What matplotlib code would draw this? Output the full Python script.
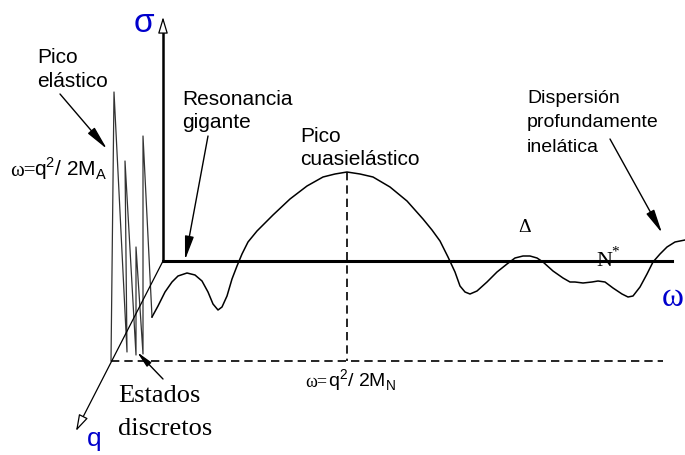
import matplotlib
matplotlib.use("Agg")
import matplotlib.pyplot as plt

plt.rcParams['font.family'] = ['Liberation Sans', 'DejaVu Sans']

# esquema de la seccion eficaz (coordenadas de la imagen, y hacia abajo)
picos_x = [111, 114, 127, 125, 136, 136, 143, 143, 152]
picos_y = [362, 93, 353, 162, 356, 248, 355, 137, 318]

espectro_x = [152, 158, 165, 172, 178, 187, 195, 202, 208, 213, 218, 222, 227,
              232, 237, 242, 248, 257, 265, 273, 290, 307, 323, 335, 347, 360,
              373, 390, 407, 423, 432, 440, 448, 455, 460, 465, 470, 477, 487,
              497, 507, 515, 523, 530, 537, 543, 553, 563, 570, 575, 583, 592,
              598, 605, 613, 622, 628, 633, 640, 647, 653, 660, 667, 675, 685]
espectro_y = [318, 307, 293, 283, 277, 274, 276, 282, 293, 305, 311, 308, 297,
              280, 267, 255, 243, 232, 224, 216, 200, 187, 178, 175, 173, 175,
              178, 188, 202, 220, 231, 242, 258, 273, 287, 293, 295, 292, 283,
              273, 265, 259, 257, 257, 259, 263, 272, 279, 283, 283, 284, 283,
              282, 283, 289, 295, 298, 297, 288, 275, 263, 255, 248, 243, 241]

omega_cuasi = 347
sigma_cuasi = 173

azul = '#0000cc'

fig = plt.figure(figsize=(6.85, 4.56), dpi=100)
ax = fig.add_axes([0, 0, 1, 1])
ax.set_xlim(0, 685)
ax.set_ylim(456, 0)
ax.axis('off')


def punta(base, tip):
    # cabeza de flecha abierta para los ejes
    ax.annotate('', xy=tip, xytext=base,
                arrowprops=dict(arrowstyle='-|>,head_length=1.0,head_width=0.3',
                                fc='white', ec='black', lw=0.9,
                                shrinkA=0, shrinkB=0, mutation_scale=10))


def flecha(base, tip, escala=9):
    ax.annotate('', xy=tip, xytext=base,
                arrowprops=dict(arrowstyle='-|>,head_length=1.6,head_width=0.3',
                                fc='black', ec='black', lw=1.0,
                                shrinkA=0, shrinkB=0, mutation_scale=escala))


# lineas punteadas
ax.plot([111, 663], [362, 362], color='black', lw=1.2, dashes=(5, 3))
ax.plot([omega_cuasi, omega_cuasi], [sigma_cuasi, 362], color='black', lw=1.2, dashes=(5, 3))

# espectro
ax.plot(picos_x, picos_y, color='#333333', lw=0.9)
ax.plot(espectro_x, espectro_y, color='black', lw=1.1, solid_joinstyle='round')

# ejes
ax.plot([163, 163], [262, 31], color='black', lw=1.8)
punta((163, 31), (163, 18))
ax.plot([163, 672], [262, 262], color='black', lw=2.2, zorder=3)
punta((672, 262), (686, 262))
ax.plot([163, 82], [262, 420], color='black', lw=0.9)
punta((82, 420), (76, 432))

# etiquetas de los ejes
ax.text(144, 32, 'σ', color=azul, fontsize=24, ha='center', va='baseline')
ax.text(87, 446, 'q', color=azul, fontsize=19, va='baseline')
ax.text(662, 306, 'ω', color=azul, fontsize=24, family='Liberation Serif', va='baseline')

# textos
ax.text(37, 63, 'Pico', fontsize=15, va='baseline')
ax.text(37, 87, 'elástico', fontsize=15, va='baseline')
flecha((60, 95), (107, 150))

ax.text(10, 176, 'ω=', fontsize=15, family='Liberation Serif', va='baseline')
ax.text(34, 176, 'q$^\\mathregular{2}$/ 2M$_\\mathregular{A}$', fontsize=15, va='baseline')

ax.text(182, 105, 'Resonancia', fontsize=15, va='baseline')
ax.text(182, 128, 'gigante', fontsize=15, va='baseline')
flecha((208, 137), (185, 261))

ax.text(300, 142, 'Pico', fontsize=15, va='baseline')
ax.text(300, 165, 'cuasielástico', fontsize=15, va='baseline')

ax.text(527, 103, 'Dispersión', fontsize=14, va='baseline')
ax.text(527, 127, 'profundamente', fontsize=14, va='baseline')
ax.text(527, 152, 'inelática', fontsize=14, va='baseline')
flecha((610, 140), (662, 234))

ax.text(525, 232, 'Δ', fontsize=14, family='Liberation Serif', ha='center', va='baseline')
ax.text(596, 266, 'N', fontsize=16, family='Liberation Serif', va='baseline')
ax.text(611, 256, '*', fontsize=11, family='Liberation Serif', va='baseline')

ax.text(118, 402, 'Estados', fontsize=19, family='Liberation Serif', va='baseline')
ax.text(118, 435, 'discretos', fontsize=19, family='Liberation Serif', va='baseline')
flecha((163, 380), (137, 353), escala=6)

ax.text(305, 387, 'ω=', fontsize=13, family='Liberation Serif', va='baseline')
ax.text(328, 387, 'q$^\\mathregular{2}$/ 2M$_\\mathregular{N}$', fontsize=14, va='baseline')

fig.savefig('out.png', dpi=100)
